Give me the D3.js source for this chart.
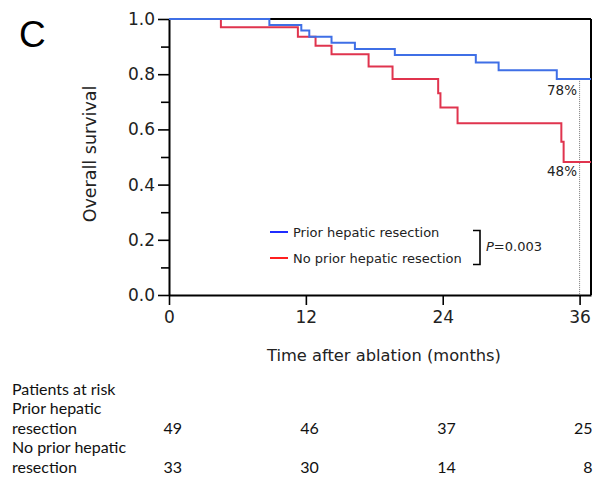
<!DOCTYPE html>
<html><head><meta charset="utf-8">
<script src="https://cdn.jsdelivr.net/npm/d3@7"></script>
<style>body{margin:0;background:#fff}svg{display:block}</style>
</head><body><svg id="c" width="604" height="485"></svg>
<script>
// ---- data ----
const priorTimes = [0, 8.8, 11.6, 12.3, 14.25, 16.3, 19.8, 26.9, 28.9, 34.0];
const priorSurv  = [1.0, 0.978, 0.958, 0.936, 0.914, 0.891, 0.870, 0.842, 0.814, 0.783];
const noPriorTimes = [0, 4.55, 11.3, 12.85, 14.25, 17.5, 19.6, 23.6, 23.8, 25.3, 34.4, 34.6];
const noPriorSurv  = [1.0, 0.970, 0.936, 0.903, 0.872, 0.828, 0.783, 0.731, 0.679, 0.622, 0.555, 0.482];
const followEnd = 37;
const xTicks = [0, 12, 24, 36];
const yTicks = [0, 0.2, 0.4, 0.6, 0.8, 1.0];
const yMinor = [0.1, 0.3, 0.5, 0.7, 0.9];
const riskTimes = [0, 12, 24, 36];
const riskPrior = [49, 46, 37, 25];
const riskNoPrior = [33, 30, 14, 8];
const seriesNames = ["Prior hepatic resection", "No prior hepatic resection"];
const pText = "0.003";
const landmark = 36;
const landmarkLabels = ["78%", "48%"];

// ---- drawing ----
const svg = d3.select("#c");
const x = d3.scaleLinear().domain([0, followEnd]).range([169, 591]);
const y = d3.scaleLinear().domain([0, 1]).range([295, 19]);
const FONT = "DejaVu Sans, Verdana, sans-serif";
const blue = "#3f6fe6", red = "#e0344e";

svg.append("text").attr("x", 19).attr("y", 47).attr("font-family", "Liberation Sans, Arial, sans-serif")
  .attr("font-size", 37).text("C");

// frame top & right
svg.append("line").attr("x1", x(0)).attr("x2", x(followEnd)).attr("y1", y(1)).attr("y2", y(1)).attr("stroke", "#000").attr("stroke-width", 2);
svg.append("line").attr("x1", x(followEnd)).attr("x2", x(followEnd)).attr("y1", y(1)).attr("y2", y(0)).attr("stroke", "#000").attr("stroke-width", 2);

// y axis
const yAxis = svg.append("g").attr("transform", `translate(${x(0)},0)`)
  .call(d3.axisLeft(y).tickValues(yTicks).tickFormat(d3.format(".1f")).tickSize(11).tickSizeOuter(0));
yAxis.selectAll("text").attr("font-family", FONT).attr("font-size", 17).attr("fill", "#222").attr("x", -14);
yAxis.selectAll("line").attr("stroke-width", 1.6);
yAxis.select(".domain").attr("stroke-width", 2);
svg.append("g").attr("transform", `translate(${x(0)},0)`)
  .call(d3.axisLeft(y).tickValues(yMinor).tickFormat("").tickSize(8).tickSizeOuter(0))
  .call(g => g.select(".domain").remove())
  .selectAll("line").attr("stroke-width", 1.6);

// x axis
const xAxis = svg.append("g").attr("transform", `translate(0,${y(0)})`)
  .call(d3.axisBottom(x).tickValues(xTicks).tickSize(10).tickSizeOuter(0));
xAxis.selectAll("text").attr("font-family", FONT).attr("font-size", 17).attr("fill", "#222").attr("y", 16);
xAxis.selectAll("line").attr("stroke-width", 1.6);
xAxis.select(".domain").attr("stroke-width", 2);

svg.append("text").attr("x", 384).attr("y", 361).attr("text-anchor", "middle")
  .attr("font-family", FONT).attr("font-size", 16.3).attr("fill", "#222").text("Time after ablation (months)");
svg.append("text").attr("transform", "translate(96,154) rotate(-90)").attr("text-anchor", "middle")
  .attr("font-family", FONT).attr("font-size", 17.5).attr("fill", "#222").text("Overall survival");

// landmark dotted line
const blueLast = priorSurv[priorSurv.length - 1];
svg.append("line").attr("x1", x(landmark)).attr("x2", x(landmark)).attr("y1", y(blueLast)).attr("y2", y(0))
  .attr("stroke", "#777").attr("stroke-width", 1).attr("stroke-dasharray", "1,1");

// KM step curves
function stepData(times, surv) {
  const pts = times.map((t, i) => [t, surv[i]]);
  pts.push([followEnd, surv[surv.length - 1]]);
  return pts;
}
const line = d3.line().x(d => x(d[0])).y(d => y(d[1])).curve(d3.curveStepAfter);
svg.append("path").datum(stepData(noPriorTimes, noPriorSurv)).attr("d", line)
  .attr("fill", "none").attr("stroke", red).attr("stroke-width", 2);
svg.append("path").datum(stepData(priorTimes, priorSurv)).attr("d", line)
  .attr("fill", "none").attr("stroke", blue).attr("stroke-width", 2);

// percent labels
svg.append("text").attr("x", 577).attr("y", 95).attr("text-anchor", "end").attr("font-family", FONT)
  .attr("font-size", 13.5).attr("fill", "#222").text(landmarkLabels[0]);
svg.append("text").attr("x", 577).attr("y", 176).attr("text-anchor", "end").attr("font-family", FONT)
  .attr("font-size", 13.5).attr("fill", "#222").text(landmarkLabels[1]);

// legend
const legY = [232, 258], legCol = ["#1f2cff", "#ff1f1f"];
seriesNames.forEach((n, i) => {
  svg.append("line").attr("x1", 270).attr("x2", 288).attr("y1", legY[i]).attr("y2", legY[i])
    .attr("stroke", legCol[i]).attr("stroke-width", 2);
  svg.append("text").attr("x", 293).attr("y", legY[i] + 5).attr("font-family", FONT)
    .attr("font-size", 13).attr("fill", "#222").text(n);
});
svg.append("path").attr("d", "M473,230.5H480V264.5H473").attr("fill", "none").attr("stroke", "#000").attr("stroke-width", 1.6);
const pt = svg.append("text").attr("x", 486).attr("y", 251).attr("font-family", FONT).attr("font-size", 13).attr("fill", "#222");
pt.append("tspan").attr("font-style", "italic").text("P");
pt.append("tspan").text("=" + pText);

// risk table
const TF = "Lato, Open Sans, sans-serif";
const TS = 16;
const tLines = [["Patients at risk", 389], ["Prior hepatic", 408.5], ["resection", 428], ["No prior hepatic", 447.5], ["resection", 467]];
tLines.forEach(([t, yy]) => svg.append("text").attr("x", 12).attr("y", yy).attr("dy", "0.35em").attr("font-family", TF)
  .attr("font-size", TS).attr("fill", "#111").text(t));
const numOff = 13;
[[riskPrior, 428], [riskNoPrior, 467]].forEach(([arr, yy]) => {
  svg.selectAll(null).data(arr).enter().append("text")
    .attr("x", (d, i) => x(riskTimes[i]) + numOff).attr("y", yy).attr("dy", "0.35em").attr("text-anchor", "end")
    .attr("font-family", TF).attr("font-size", TS).attr("fill", "#111").text(d => d);
});
</script></body></html>
